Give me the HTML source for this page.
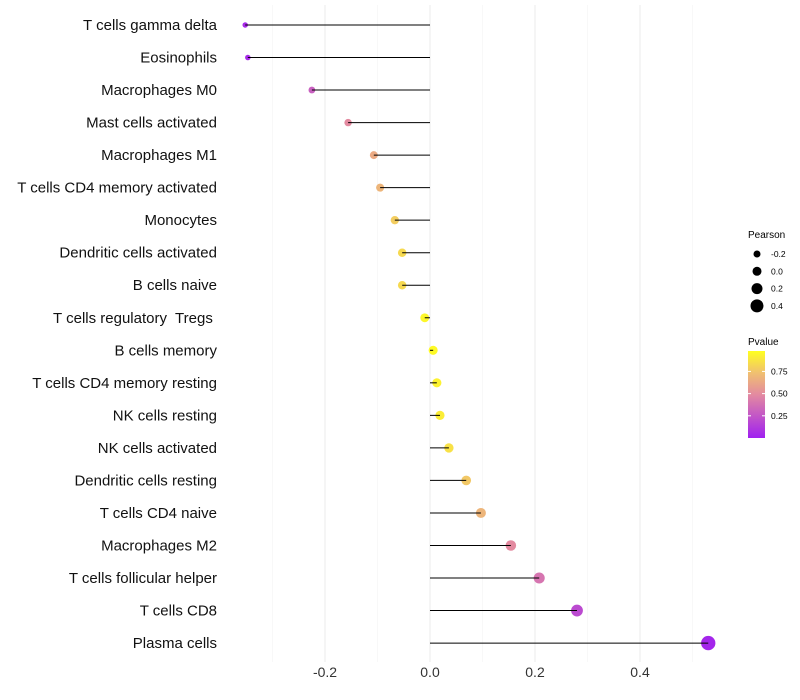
<!DOCTYPE html>
<html><head><meta charset="utf-8"><style>
body{margin:0;background:#fff;}
svg{display:block;font-family:"Liberation Sans",sans-serif;}
#ylabels text{white-space:pre;}
</style></head><body>
<svg id="chart" width="800" height="700" viewBox="0 0 800 700">
<defs><linearGradient id="pg" x1="0" y1="1" x2="0" y2="0">
<stop offset="0" stop-color="#a020f0"/><stop offset="0.5" stop-color="#e38aa0"/><stop offset="0.75" stop-color="#f0c070"/><stop offset="1" stop-color="#ffff20"/>
</linearGradient></defs>
<g id="grid"></g><g id="dots"></g><g id="marks"></g><g id="ylabels"></g><g id="xlabels"></g>
<g>
<text x="748" y="238" font-size="10">Pearson</text>
<g id="sizeleg"></g>
</g>
<g>
<text x="748" y="345" font-size="10">Pvalue</text>
<rect x="748" y="351" width="17" height="87" fill="url(#pg)"/>
<g id="colleg"></g>
</g>
</svg>
<script>
const categories=["T cells gamma delta","Eosinophils","Macrophages M0","Mast cells activated","Macrophages M1","T cells CD4 memory activated","Monocytes","Dendritic cells activated","B cells naive","T cells regulatory  Tregs ","B cells memory","T cells CD4 memory resting","NK cells resting","NK cells activated","Dendritic cells resting","T cells CD4 naive","Macrophages M2","T cells follicular helper","T cells CD8","Plasma cells"];
const pearson=[-0.352,-0.347,-0.225,-0.156,-0.107,-0.095,-0.067,-0.053,-0.053,-0.01,0.006,0.013,0.019,0.036,0.069,0.097,0.154,0.208,0.28,0.53];
const pvalue=[0.05,0.05,0.3,0.5,0.65,0.7,0.8,0.85,0.85,0.97,0.98,0.95,0.93,0.88,0.78,0.7,0.5,0.4,0.2,0.03];
const xTicks=[-0.2,0,0.2,0.4];
const xTickLabels=["-0.2","0.0","0.2","0.4"];
const sizeLegend=[-0.2,0,0.2,0.4];
const colorLegend=[0.75,0.5,0.25];
const NS="http://www.w3.org/2000/svg";
const X=v=>430+v*525, Y=i=>25+i*32.53, R=v=>4.5+5*v;
const CB=p=>438-p*87/0.98;
function mk(t,a,p){const e=document.createElementNS(NS,t);for(const k in a)e.setAttribute(k,a[k]);p.appendChild(e);return e;}
function lerp(a,b,t){return a.map((x,i)=>Math.round(x+(b[i]-x)*t));}
function col(p){const s=[[0,[160,32,240]],[0.5,[227,138,160]],[0.75,[240,192,112]],[1,[255,255,32]]];
for(let i=1;i<s.length;i++)if(p<=s[i][0]){const c=lerp(s[i-1][1],s[i][1],(p-s[i-1][0])/(s[i][0]-s[i-1][0]));return `rgb(${c})`;}return "rgb(255,255,32)";}
const grid=document.getElementById('grid');
[-0.3,-0.1,0.1,0.3,0.5].forEach(v=>{const l=mk('line',{x1:X(v),x2:X(v),y1:5,y2:662,stroke:'#f3f3f3','stroke-width':0.6},grid);
});
xTicks.forEach(v=>{const l=mk('line',{x1:X(v),x2:X(v),y1:5,y2:662,stroke:'#ebebeb','stroke-width':1},grid);
});
const xl=document.getElementById('xlabels');
xTicks.forEach((v,i)=>{const t=mk('text',{x:X(v),y:677,'font-size':14,'text-anchor':'middle',fill:'#333'},xl);t.textContent=xTickLabels[i];
});
const m=document.getElementById('marks'),dg=document.getElementById('dots'),yl=document.getElementById('ylabels');
categories.forEach((c,i)=>{
const d=mk('circle',{cx:X(pearson[i]),cy:Y(i),r:R(pearson[i]),fill:col(pvalue[i])},dg);

const l=mk('line',{x1:X(0),x2:X(pearson[i]),y1:Y(i),y2:Y(i),stroke:'#000','stroke-width':1},m);

const t=mk('text',{x:217,y:Y(i)+5,'font-size':15,'text-anchor':'end',fill:'#111'},yl);t.textContent=c;
});
const sl=document.getElementById('sizeleg');
sizeLegend.forEach((v,i)=>{const y=254+i*17.3;
const c=mk('circle',{cx:757,cy:y,r:R(v),fill:'#000'},sl);
const t=mk('text',{x:771,y:y+3,'font-size':8.5},sl);t.textContent=v.toFixed(1);});
const cl=document.getElementById('colleg');
colorLegend.forEach(p=>{const y=CB(p);
const a=mk('line',{x1:748,x2:751,y1:y,y2:y,stroke:'#fff'},cl);
const b=mk('line',{x1:762,x2:765,y1:y,y2:y,stroke:'#fff'},cl);
const t=mk('text',{x:771,y:y+3,'font-size':8.5},cl);t.textContent=p.toFixed(2);});
</script>
</body></html>
